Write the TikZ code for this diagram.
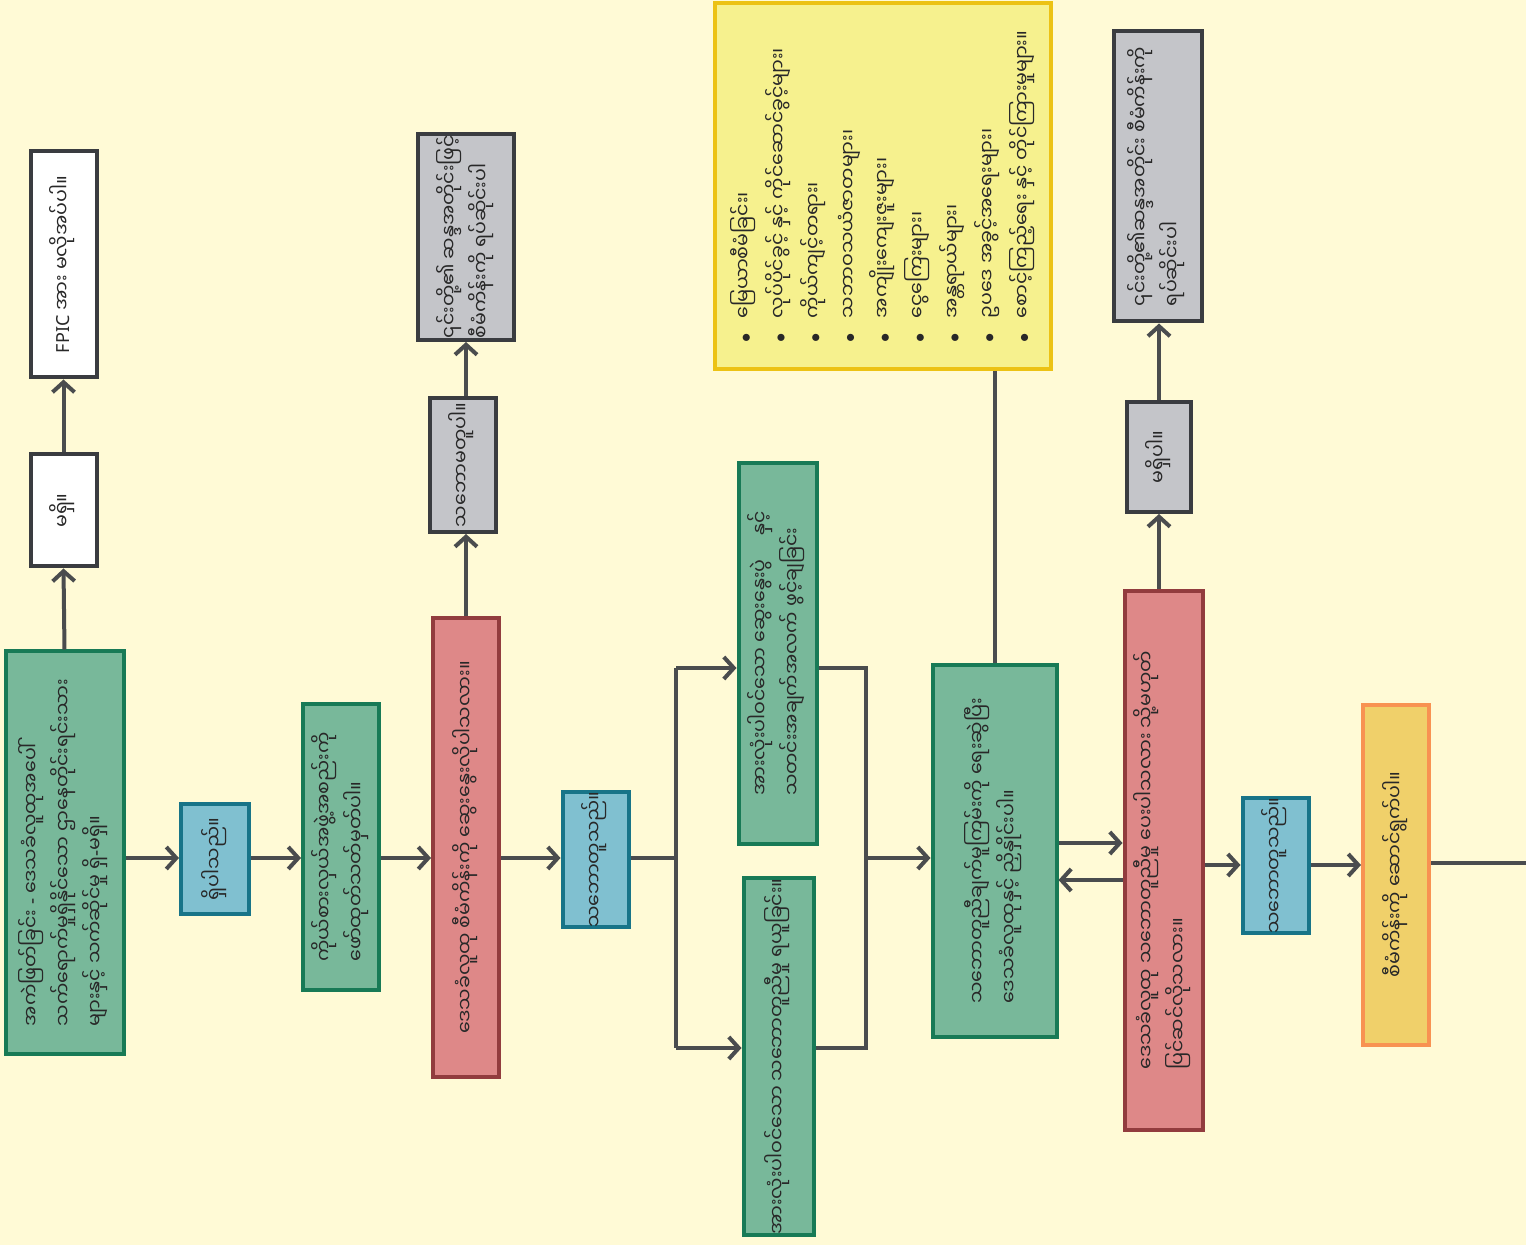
\documentclass[tikz,border=0pt]{standalone}
\usepackage{fontspec}
\setmainfont{Noto Sans}
\newfontfamily\mya[Script=Myanmar]{Noto Sans Myanmar UI}
\usetikzlibrary{arrows.meta}

\definecolor{bgpaper}{RGB}{255,250,214}
\definecolor{greenfill}{RGB}{120,184,154}
\definecolor{greenline}{RGB}{24,122,86}
\definecolor{bluefill}{RGB}{128,192,208}
\definecolor{blueline}{RGB}{24,116,136}
\definecolor{redfill}{RGB}{222,136,136}
\definecolor{redline}{RGB}{146,60,62}
\definecolor{grayfill}{RGB}{196,197,201}
\definecolor{grayline}{RGB}{58,60,64}
\definecolor{notefill}{RGB}{246,241,142}
\definecolor{noteline}{RGB}{236,194,20}
\definecolor{orangefill}{RGB}{240,208,106}
\definecolor{orangeline}{RGB}{248,146,82}
\definecolor{flowline}{RGB}{74,76,78}
\definecolor{inktext}{RGB}{40,40,40}

\newcommand{\rtext}[1]{\rotatebox{90}{\mya\fontsize{9.5}{16}\selectfont\begin{tabular}{@{}l@{}}#1\end{tabular}}}
\newcommand{\dash}{{\rmfamily -}}

\begin{document}
\begin{tikzpicture}[x=0.5pt, y=-0.5pt,
	box/.style={draw, line width=2pt, inner sep=0pt, text=inktext},
	greenbox/.style={box, fill=greenfill, draw=greenline},
	bluebox/.style={box, fill=bluefill, draw=blueline},
	redbox/.style={box, fill=redfill, draw=redline},
	graybox/.style={box, fill=grayfill, draw=grayline},
	whitebox/.style={box, fill=white, draw=grayline},
	notebox/.style={box, fill=notefill, draw=noteline},
	implbox/.style={box, fill=orangefill, draw=orangeline},
	flow/.style={draw=flowline, line width=2pt},
	arr/.style={flow, -{Straight Barb[length=5pt 0, width=11pt 0]}}]
	\fill[bgpaper] (0,0) rectangle (1526,1245);
	\useasboundingbox (0,0) rectangle (1526,1245);

	% left column
	\node[greenbox, minimum width=59pt, minimum height=201pt] (screen) at (64.5,852.5)
		{\rtext{အကဲဖြတ်ခြင်း \dash{} ဒေသခံလူထုအပေါ်\\သက်ရောက်မှုရှိနိုင်သော ဌာနေတိုင်းရင်းသား\\များနှင့် သက်ဆိုင်မှု ရှိ\dash မရှိ။}};
	\node[whitebox, minimum width=33pt, minimum height=56pt] (none) at (63.5,510.5)
		{\rtext{မရှိ။}};
	\node[whitebox, minimum width=33pt, minimum height=113pt] (nofpic) at (63.5,264.5)
		{\rtext{{\rmfamily\fontsize{9}{16}\selectfont FPIC} အား မလိုအပ်ပါ။}};

	\node[bluebox, minimum width=34pt, minimum height=55pt] (yesone) at (215,859)
		{\rtext{ရှိပါသည်။}};
	\node[greenbox, minimum width=38pt, minimum height=143pt] (reps) at (341,847)
		{\rtext{ကိုယ်စားလှယ်အဖွဲ့အစည်းကို\\ဖော်ထုတ်သတ်မှတ်ပါ။}};

	% first question
	\node[redbox, minimum width=33pt, minimum height=229pt] (askone) at (466,847.5)
		{\rtext{ဒေသခံလူထု စီမံကိန်းကို ဆွေးနွေးလိုပါသလား။}};
	\node[graybox, minimum width=33pt, minimum height=67pt] (notalk) at (462.5,465)
		{\rtext{သဘောမတူပါ။}};
	\node[graybox, minimum width=48pt, minimum height=103pt] (respone) at (466,237)
		{\rtext{၎င်းတို့၏ ဆန္ဒအတိုင်းဖြင့်\\စီမံကိန်းကို ရပ်ဆိုင်းပါ}};
	\node[bluebox, minimum width=33pt, minimum height=65pt] (yestwo) at (595.5,859.5)
		{\rtext{သဘောတူသည်။}};

	% two parallel steps
	\node[greenbox, minimum width=39pt, minimum height=190pt] (inform) at (777.5,653.5)
		{\rtext{အားလုံးပါဝင်သော ဆွေးနွေးပွဲ \quad နှင့်\\သတင်းအချက်အလက် ဖွင့်ချခြင်း}};
	\node[greenbox, minimum width=35pt, minimum height=176pt] (joint) at (778.5,1056.5)
		{\rtext{အားလုံးပါဝင်သော သဘောတူညီမှု ရယူခြင်း။}};

	% topics list
	\node[notebox, minimum width=168pt, minimum height=183pt] (topics) at (883,186.5)
		{\rotatebox{90}{\mya\fontsize{9.5}{17.4}\selectfont\begin{tabular}{@{}l@{\ \ \ }l@{}}
			$\bullet$ & မြေယာစီမံခြင်း၊\\
			$\bullet$ & လုပ်ပိုင်ခွင့် နှင့် ကိုင်ဆောင်ခွင့်များ၊\\
			$\bullet$ & ကိုယ်ကျင့်တရား၊\\
			$\bullet$ & သဘာဝသယံဇာတများ၊\\
			$\bullet$ & အကျိုးကျေးဇူးများ၊\\
			$\bullet$ & ငွေကြေးများ၊\\
			$\bullet$ & အန္တရာယ်များ၊\\
			$\bullet$ & ဥပဒေ အခွင့်အရေးများ၊\\
			$\bullet$ & စောင့်ကြည့်ရေး နှင့် တိုင်ကြားမှုများ။
		\end{tabular}}};

	\node[greenbox, minimum width=62pt, minimum height=186pt] (deal) at (994.5,851)
		{\rtext{သဘောတူညီချက်မူကြမ်းကို ရေးဆွဲပြီး\\ဒေသခံလူထုနှင့် ညှိနှိုင်းပါ။}};

	% second question
	\node[redbox, minimum width=39pt, minimum height=269pt] (asktwo) at (1163.5,860.5)
		{\rtext{ဒေသခံလူထု သဘောတူညီမှု ပေးပါသလား သို့မဟုတ်\\ပြင်ဆင်လိုသလား။}};
	\node[graybox, minimum width=32pt, minimum height=55pt] (notwo) at (1159,457)
		{\rtext{မရှိပါ။}};
	\node[graybox, minimum width=44pt, minimum height=145pt] (resptwo) at (1157.5,176.5)
		{\rtext{၎င်းတို့၏ဆန္ဒအတိုင်း စီမံကိန်းကို\\ရပ်ဆိုင်းပါ}};
	\node[bluebox, minimum width=33pt, minimum height=63pt] (yesthree) at (1275.5,865.5)
		{\rtext{သဘောတူသည်။}};
	\node[implbox, minimum width=33pt, minimum height=170pt] (carry) at (1396,874.5)
		{\rtext{စီမံကိန်းကို ဆောင်ရွက်ပါ။}};

	% connectors
	\coordinate (split) at (676,858);
	\coordinate (splitup) at (676,668);
	\coordinate (splitdown) at (676,1048);
	\coordinate (join) at (866,858);
	\coordinate (outend) at (1526,863);

	\draw[arr] (screen.north) -- (none.south);
	\draw[arr] (none.north) -- (nofpic.south);
	\draw[arr] (screen.east |- 0,858) -- (yesone.west |- 0,858);
	\draw[arr] (yesone.east |- 0,858) -- (reps.west |- 0,858);
	\draw[arr] (reps.east |- 0,858) -- (askone.west |- 0,858);
	\draw[arr] (askone.north) -- (notalk.south -| askone.north);
	\draw[arr] (notalk.north -| askone.north) -- (respone.south -| askone.north);
	\draw[arr] (askone.east |- 0,858) -- (yestwo.west |- 0,858);
	\draw[flow] (yestwo.east |- split) -- (split);
	\draw[flow] (splitup) -- (splitdown);
	\draw[arr] (splitup) -- (inform.west |- splitup);
	\draw[arr] (splitdown) -- (joint.west |- splitdown);
	\draw[flow] (inform.east |- splitup) -| (join);
	\draw[flow] (joint.east |- splitdown) -| (join);
	\draw[arr] (join) -- (deal.west |- join);
	\draw[flow] (deal.north) -- (topics.south -| deal.north);
	\draw[arr] (deal.east |- 0,843) -- (asktwo.west |- 0,843);
	\draw[arr] (asktwo.west |- 0,880) -- (deal.east |- 0,880);
	\draw[arr] (asktwo.north -| notwo.south) -- (notwo.south);
	\draw[arr] (notwo.north) -- (resptwo.south -| notwo.north);
	\draw[arr] (asktwo.east |- 0,865) -- (yesthree.west |- 0,865);
	\draw[arr] (yesthree.east |- 0,865) -- (carry.west |- 0,865);
	\draw[flow] (carry.east |- outend) -- (outend);
\end{tikzpicture}
\end{document}
